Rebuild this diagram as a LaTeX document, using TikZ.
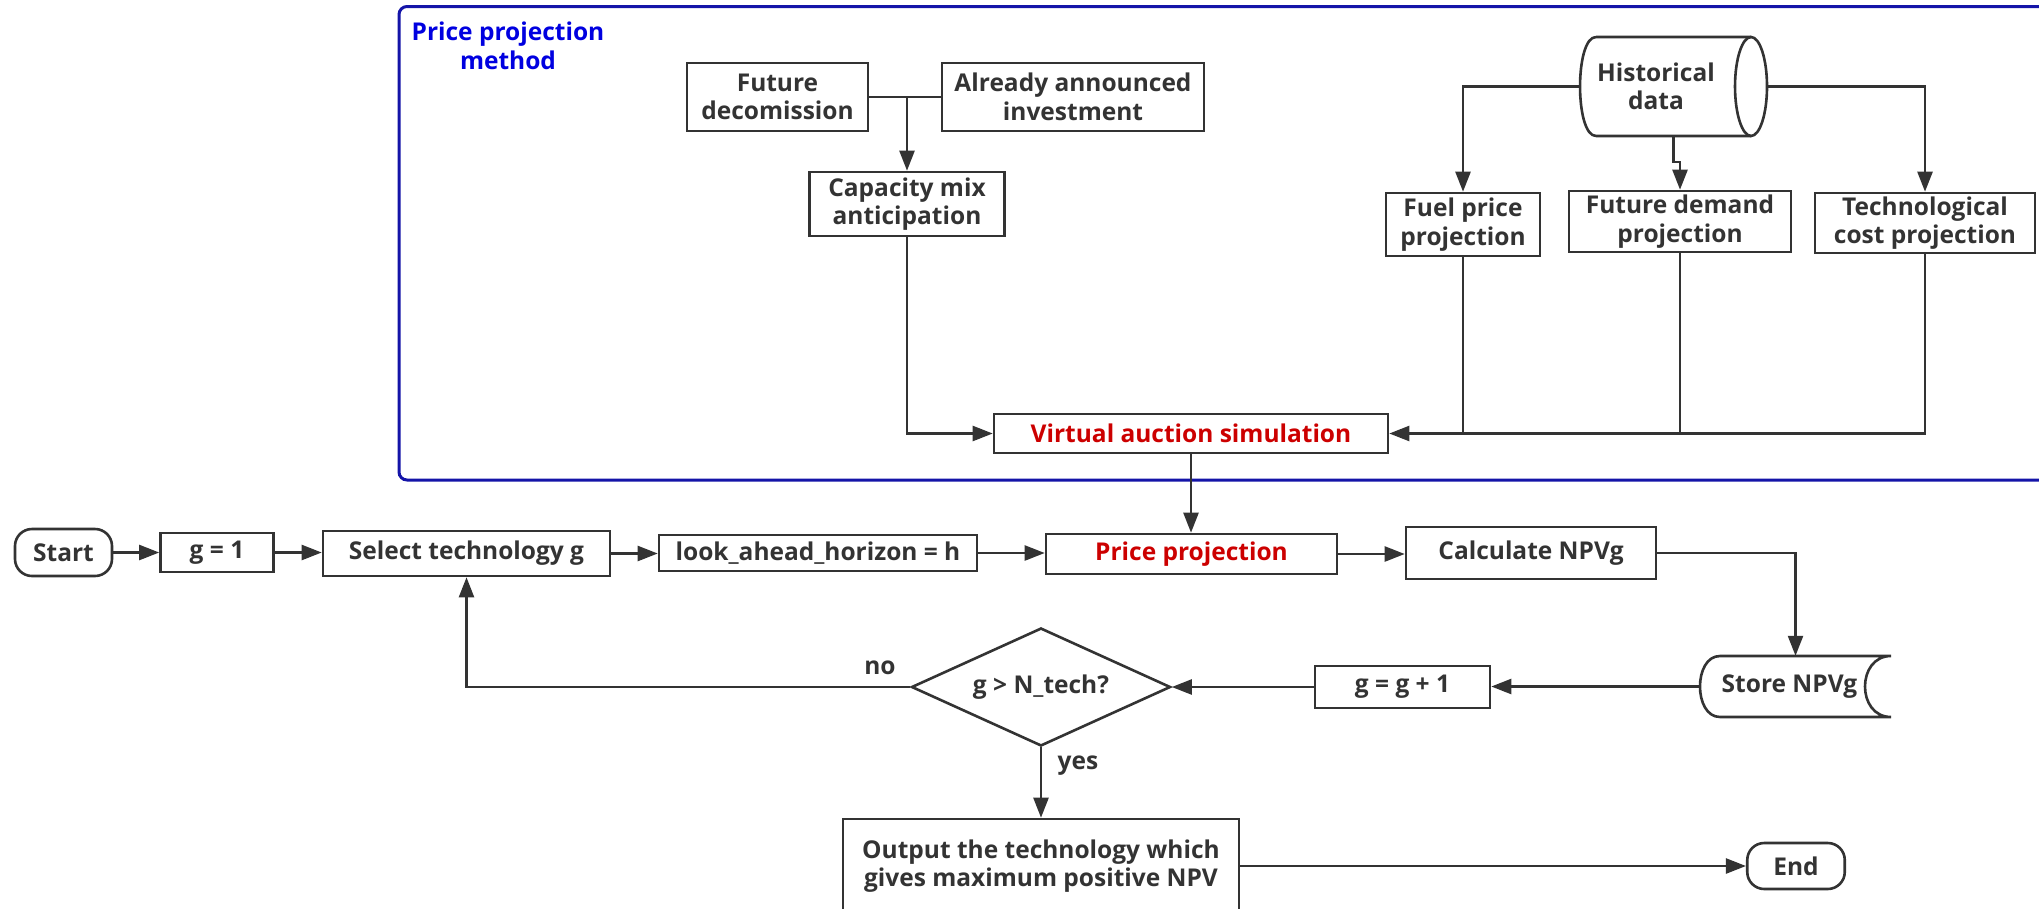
\documentclass[tikz,border=0pt]{standalone}
\usepackage{fontspec}
\setmainfont{Open Sans}
\usetikzlibrary{arrows.meta,shapes.geometric,calc}
\definecolor{lnc}{HTML}{333333}
\definecolor{rd}{HTML}{CC0000}
\definecolor{bl}{HTML}{0000E0}
\definecolor{fr}{HTML}{1414A8}
\tikzset{
  sz/.style 2 args={minimum width=#1pt, minimum height=#2pt},
  box/.style={draw=lnc, line width=2.6pt, inner sep=0pt, rectangle},
  conn/.style={draw=lnc, line width=2.4pt},
  arr/.style={conn, -{Triangle[length=20pt,width=15pt]}},
  lbl/.style={inner sep=0pt},
}
\begin{document}
\begin{tikzpicture}[x=1pt,y=-1pt,
  every node/.style={font=\fontsize{24.5}{28.5}\selectfont\bfseries, text=lnc, align=center}]
\useasboundingbox (0,0) rectangle (2039,908);
\clip (0,0) rectangle (2039,908);
% frame
\draw[fr, line width=3pt, rounded corners=8pt] (399,6.5) rectangle (2080,480);
\node[text=bl] (title) at (508,46) {Price projection\\method};
% top nodes
\node[box, sz={181}{68}] (fdec) at (777.5,97) {Future\\decomission};
\node[box, sz={262}{68}] (aai) at (1073,97) {Already announced\\investment};
\node[box, sz={195}{64}] (cap) at (907,204) {Capacity mix\\anticipation};
\node[box, sz={394}{39}, text=rd] (virt) at (1191,433.5) {Virtual auction simulation};
\node[sz={187}{99}, inner sep=0pt] (hist) at (1673.5,86.5) {};
\draw[conn, line width=2.6pt] (1596,37) -- (1751,37) (1596,136) -- (1751,136)
  (1596,37) .. controls (1574.7,37) and (1574.7,136) .. (1596,136);
\draw[conn, line width=2.6pt] (1751,86.5) ellipse [x radius=16, y radius=49.5];
\node (histt) at (1656,86.5) {Historical\\data};
\node[box, sz={154}{63}] (fuel) at (1463,224.5) {Fuel price\\projection};
\node[box, sz={222}{61}] (fdem) at (1680,221.5) {Future demand\\projection};
\node[box, sz={220}{60}] (tech) at (1925,223) {Technological\\cost projection};
% top connectors
\draw[conn] (fdec.east) -- (aai.west);
\draw[arr] (cap.north |- fdec.east) -- (cap.north);
\draw[arr] (cap.south) |- (virt.west);
\draw[arr] (hist.west) -| (fuel.north);
\draw[arr] (hist.south) -- ++(0,26) -| (fdem.north);
\draw[arr] (hist.east) -| (tech.north);
\draw[arr] (tech.south) |- (virt.east);
\draw[conn] (fuel.south) -- (fuel.south |- virt.east);
\draw[conn] (fdem.south) -- (fdem.south |- virt.east);
% main flow
\node[box, sz={97}{47}, rounded corners=17pt] (start) at (63.5,552.5) {Start};
\node[box, sz={113}{39}] (g1) at (217,552.5) {g = 1};
\node[box, sz={287}{45}] (sel) at (466.5,553.5) {Select technology g};
\node[box, sz={318}{36}] (look) at (818,553) {look\_ahead\_horizon = h};
\node[box, sz={291}{40}, text=rd] (price) at (1191.5,554) {Price projection};
\node[box, sz={250}{52}] (calc) at (1531,553) {Calculate NPVg};
\node[sz={191}{61}, inner sep=0pt] (store) at (1795.5,686.5) {Store NPVg\hspace*{12pt}};
\draw[conn, line width=2.6pt] (1891,656) -- (1720,656) .. controls (1693.3,656) and (1693.3,717) .. (1720,717) -- (1891,717)
  (1891,656) .. controls (1856.3,656) and (1856.3,717) .. (1891,717);
\node[box, sz={175}{42}] (gg1) at (1402.5,687) {g = g + 1};
\node[draw=lnc, line width=2.6pt, diamond, aspect=2.2, sz={259}{118}, inner sep=0pt] (dia) at (1041,687) {g > N\_tech?};
\node[box, sz={396}{94}] (out) at (1041,866) {Output the technology which\\gives maximum positive NPV};
\node[box, sz={97.5}{46}, rounded corners=17pt] (end) at (1796,866) {End};
\draw[arr] (virt.south) -- (virt.south |- price.north);
\draw[arr] (start.east) -- (start.east -| g1.west);
\draw[arr] (g1.east) -- (g1.east -| sel.west);
\draw[arr] (sel.east) -- (sel.east -| look.west);
\draw[arr] (look.east) -- (look.east -| price.west);
\draw[arr] (price.east) -- (price.east -| calc.west);
\draw[arr] (calc.east) -| (store.north);
\draw[arr] (store.west) -- (store.west -| gg1.east);
\draw[arr] (gg1.west) -- (gg1.west -| dia.east);
\draw[arr] (dia.west) -| (sel.south);
\draw[arr] (dia.south) -- (out.north);
\draw[arr] (out.east) -- (out.east -| end.west);
\node[lbl] (no) at (880,668) {no};
\node[lbl] (yes) at (1078,766) {yes};
\end{tikzpicture}
\end{document}
